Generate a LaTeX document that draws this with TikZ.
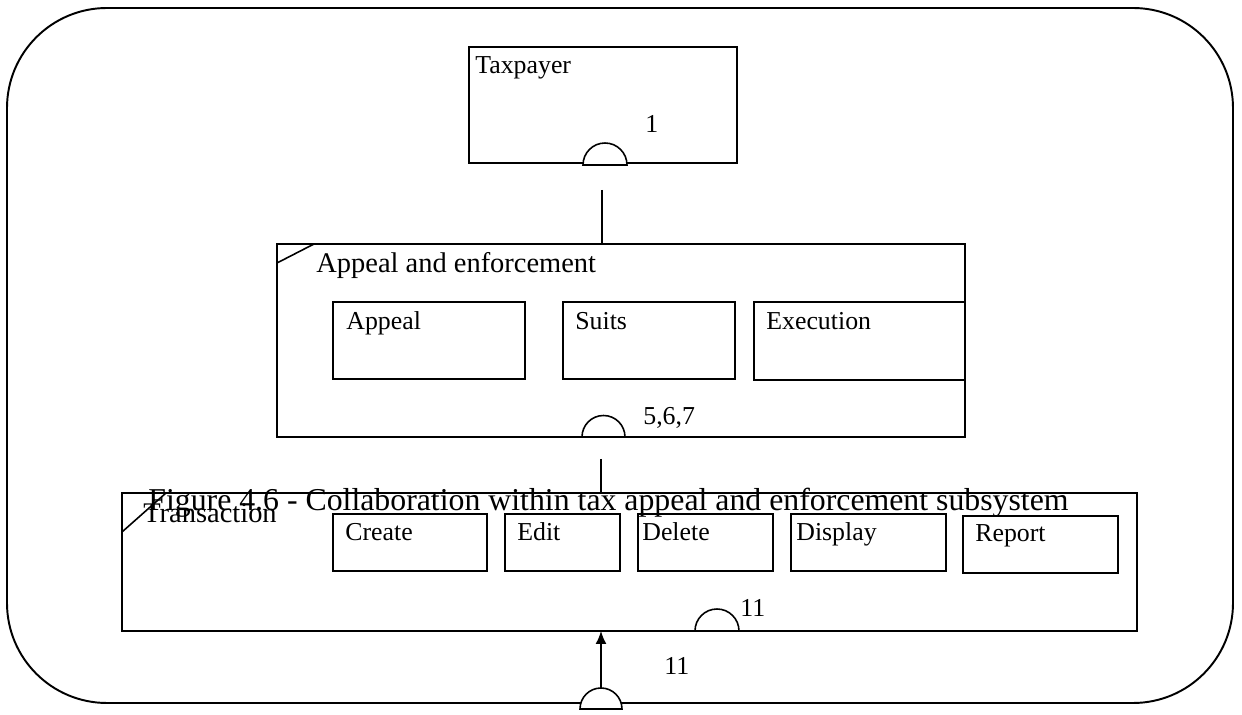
\documentclass[tikz,border=0pt]{standalone}
\usepackage{fontspec}
\setmainfont{Liberation Serif}
\usetikzlibrary{arrows.meta}

% Rectangle node given by its top-left and bottom-right corners (pixel grid)
\newcommand\PxBox[6][]{%
  \node[boxsty,#1,anchor=north west,
        minimum width={(#5-#3)*0.02cm},
        minimum height={(#6-#4)*0.02cm}] (#2) at (#3,#4) {};}

\begin{document}
\begin{tikzpicture}[x=0.02cm,y=-0.02cm,
  boxsty/.style={draw,line width=0.9pt,rectangle,inner sep=0pt,outer sep=0pt},
  linesty/.style={line width=0.9pt},
  small/.style={inner sep=0pt,anchor=base west,font=\fontsize{14.7}{16}\selectfont},
  large/.style={inner sep=0pt,anchor=base west,font=\fontsize{16.2}{18}\selectfont},
  caption/.style={inner sep=0pt,anchor=base west,font=\fontsize{18.1}{20}\selectfont},
  halfdisc/.style={draw,line width=0.9pt,fill=white}]
\useasboundingbox (0,0) rectangle (1242,715);
\clip (0,0) rectangle (1242,715);

% system boundary
\draw[line width=1.1pt,rounded corners=2cm] (7,8) rectangle (1233,703);

% Taxpayer
\PxBox{tax}{469}{47}{737}{163}
\node[small] (taxlbl) at (475,74) {Taxpayer};
\node[small] (taxnum) at (645,133) {1};
\draw[halfdisc] (583,165) arc[start angle=180,end angle=0,radius=0.44cm] -- cycle;
\coordinate (taxport) at (602,190);

% Appeal and enforcement
\PxBox{app}{277}{244}{965}{437}
\draw[linesty] (277,263) -- (314,244);
\node[large] (applbl) at (316,273) {Appeal and enforcement};
\PxBox{appeal}{333}{302}{525}{379}
\node[small] at (346,330) {Appeal};
\PxBox{suits}{563}{302}{735}{379}
\node[small] at (575,330) {Suits};
\PxBox{exec}{754}{302}{965}{380}
\node[small] at (766,330) {Execution};
\draw[halfdisc] (582,437) arc[start angle=180,end angle=0,radius=0.43cm] -- cycle;
\node[small] (appnum) at (643,425) {5,6,7};
\coordinate (appport) at (601,459);

% Transaction
\PxBox{trans}{122}{493}{1137}{631}
\draw[linesty] (122,532) -- (166,493);
\node[large] (translbl) at (143,523) {Transaction};
\PxBox{create}{333}{514}{487}{571}
\node[small] at (345,541) {Create};
\PxBox{edit}{505}{514}{620}{571}
\node[small] at (517,541) {Edit};
\PxBox{delete}{638}{514}{773}{571}
\node[small] at (642,541) {Delete};
\PxBox{display}{791}{514}{946}{571}
\node[small] at (796,541) {Display};
\PxBox{report}{963}{516}{1118}{573}
\node[small] at (975,542) {Report};
\draw[halfdisc] (695,631) arc[start angle=180,end angle=0,radius=0.44cm] -- cycle;
\node[small] (transnum) at (740,617) {11};

% external interface at the boundary
\draw[halfdisc] (580,709) arc[start angle=180,end angle=0,radius=0.42cm] -- cycle;
\coordinate (extport) at (601,688);
\node[small] (extnum) at (664,675) {11};

% connectors
\draw[linesty] (taxport) -- (taxport |- app.north);
\draw[linesty] (appport) -- (appport |- trans.north);
\draw[linesty,-{Latex[length=0.26cm,width=0.22cm]}] (extport) -- (extport |- trans.south);

% caption
\node[caption] (cap) at (148,511) {Figure 4.6 - Collaboration within tax appeal and enforcement subsystem};
\end{tikzpicture}
\end{document}
